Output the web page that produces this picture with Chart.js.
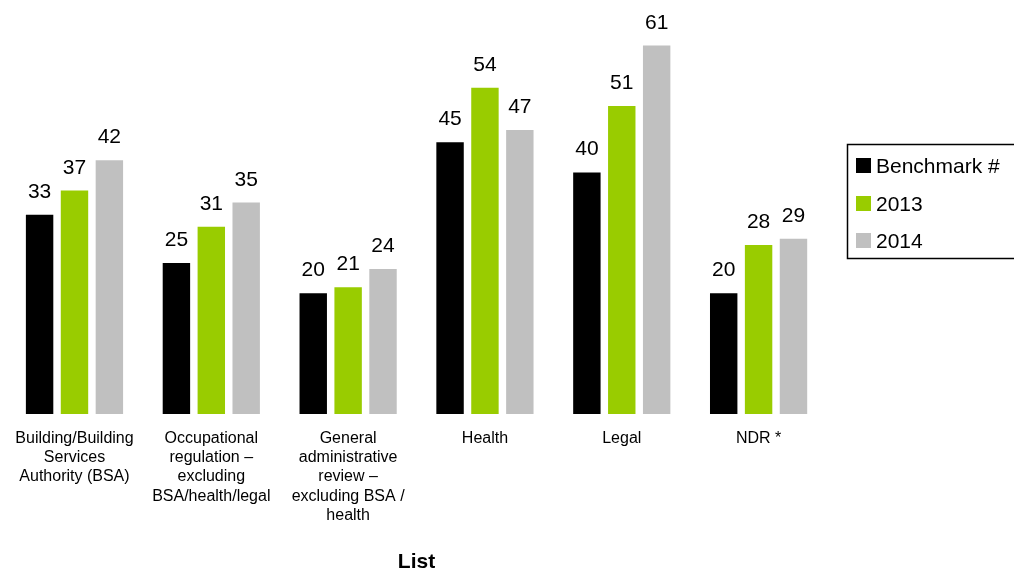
<!DOCTYPE html>
<html>
<head>
<meta charset="utf-8">
<script src="https://cdn.jsdelivr.net/npm/chart.js@4/dist/chart.umd.min.js"></script>
<style>
  html, body { margin: 0; padding: 0; background: #fff; }
  #wrap { width: 1014px; height: 573px; position: relative; }
</style>
</head>
<body>
<div id="wrap"><canvas id="c" width="1014" height="573"></canvas></div>
<script>
const categories = [
  ["Building/Building", "Services", "Authority (BSA)"],
  ["Occupational", "regulation –", "excluding", "BSA/health/legal"],
  ["General", "administrative", "review –", "excluding BSA /", "health"],
  "Health",
  "Legal",
  "NDR *"
];
const seriesNames = ["Benchmark #", "2013", "2014"];
const benchmark = [33, 25, 20, 45, 40, 20];
const y2013 = [37, 31, 21, 54, 51, 28];
const y2014 = [42, 35, 24, 47, 61, 29];
const axisTitle = "List";
const colors = ["#000000", "#99CC00", "#C0C0C0"];

const FONT = "Arial, 'Liberation Sans', Helvetica, sans-serif";

const valueLabels = {
  id: 'valueLabels',
  afterDatasetsDraw(chart) {
    const ctx = chart.ctx;
    ctx.save();
    ctx.font = "21px " + FONT;
    ctx.fillStyle = "#000";
    ctx.textAlign = "center";
    ctx.textBaseline = "alphabetic";
    chart.data.datasets.forEach((ds, i) => {
      const meta = chart.getDatasetMeta(i);
      meta.data.forEach((bar, j) => {
        ctx.fillText(String(ds.data[j]), bar.x, bar.y - 17);
      });
    });
    ctx.restore();
  }
};

const boxLegend = {
  id: 'boxLegend',
  afterDraw(chart) {
    const ctx = chart.ctx;
    ctx.save();
    ctx.strokeStyle = "#000";
    ctx.lineWidth = 1.5;
    ctx.strokeRect(847.5, 144.5, 200, 114);
    ctx.font = "21px " + FONT;
    ctx.textBaseline = "middle";
    ctx.textAlign = "left";
    const ys = [166, 204, 241];
    chart.data.datasets.forEach((ds, i) => {
      ctx.fillStyle = ds.backgroundColor;
      ctx.fillRect(856, ys[i] - 8, 15, 15);
      ctx.fillStyle = "#000";
      ctx.fillText(ds.label, 876, ys[i] + 1);
    });
    ctx.restore();
  }
};

new Chart(document.getElementById('c'), {
  type: 'bar',
  data: {
    labels: categories,
    datasets: [
      { label: seriesNames[0], data: benchmark, backgroundColor: colors[0] },
      { label: seriesNames[1], data: y2013, backgroundColor: colors[1] },
      { label: seriesNames[2], data: y2014, backgroundColor: colors[2] }
    ]
  },
  options: {
    responsive: false,
    devicePixelRatio: 1,
    animation: false,
    layout: { padding: { left: 4, right: 187, top: 21.4, bottom: 0 } },
    datasets: { bar: { categoryPercentage: 0.765, barPercentage: 0.786 } },
    plugins: { legend: { display: false }, tooltip: { enabled: false } },
    scales: {
      x: {
        grid: { display: false, drawTicks: false },
        border: { display: false },
        ticks: {
          padding: 15,
          color: "#000",
          font: { family: FONT, size: 16, lineHeight: 1.2 },
          maxRotation: 0, minRotation: 0, autoSkip: false
        },
        title: {
          display: true,
          text: axisTitle,
          color: "#000",
          font: { family: FONT, size: 21, weight: 'bold', lineHeight: 1.2 },
          padding: { top: 0, bottom: -2 }
        },
        afterFit(scale) { scale.height = 159; }
      },
      y: {
        display: false,
        min: 0,
        max: 65
      }
    }
  },
  plugins: [valueLabels, boxLegend]
});
</script>
</body>
</html>
